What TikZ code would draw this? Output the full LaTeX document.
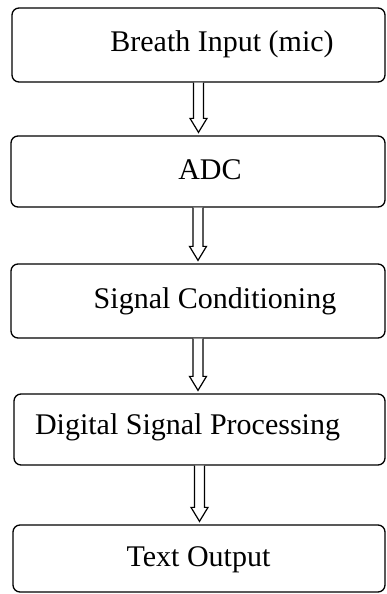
\documentclass[tikz,border=0pt]{standalone}
\usepackage{fontspec}
\setmainfont{Liberation Serif}
\usetikzlibrary{calc}

\tikzset{
  stagebox/.style={draw=black, line width=1.3pt, rounded corners=7pt,
    rectangle, inner sep=0pt},
  stagetext/.style={anchor=base, inner sep=0pt,
    font=\fontsize{30}{34}\selectfont},
  hollowarrow/.style={draw=black, fill=white, line width=1.2pt,
    line join=miter}
}

% hollow block arrow from the bottom of #1 to just above the top of #2
\newcommand\flowarrow[2]{%
  \draw[hollowarrow]
    ($(#1.south)+(-5,0)$) --
    ($(#1.south |- #2.north)+(-5,17)$) --
    ($(#1.south |- #2.north)+(-8.5,17)$) --
    ($(#1.south |- #2.north)+(0,3)$) --
    ($(#1.south |- #2.north)+(8.5,17)$) --
    ($(#1.south |- #2.north)+(5,17)$) --
    ($(#1.south)+(5,0)$);%
}

\begin{document}
\begin{tikzpicture}[x=1pt,y=1pt]
  \useasboundingbox (0,0) rectangle (386,-594);

  % stage boxes
  \node[stagebox, minimum width=373pt, minimum height=74pt] (b1) at (198.5,-45) {};
  \node[stagebox, minimum width=374pt, minimum height=71pt] (b2) at (198,-171.5) {};
  \node[stagebox, minimum width=374pt, minimum height=74pt] (b3) at (198,-301) {};
  \node[stagebox, minimum width=371pt, minimum height=71pt] (b4) at (199.5,-429.5) {};
  \node[stagebox, minimum width=372pt, minimum height=67pt] (b5) at (199,-558.5) {};

  % stage labels
  \node[stagetext] (t1) at (222,-52) {Breath Input (mic)};
  \node[stagetext] (t2) at (210,-179) {ADC};
  \node[stagetext] (t3) at (215,-308) {Signal Conditioning};
  \node[stagetext] (t4) at (187.5,-434) {Digital Signal Processing};
  \node[stagetext] (t5) at (198.5,-566) {Text Output};

  % connectors between stages
  \flowarrow{b1}{b2}
  \flowarrow{b2}{b3}
  \flowarrow{b3}{b4}
  \flowarrow{b4}{b5}
\end{tikzpicture}
\end{document}
